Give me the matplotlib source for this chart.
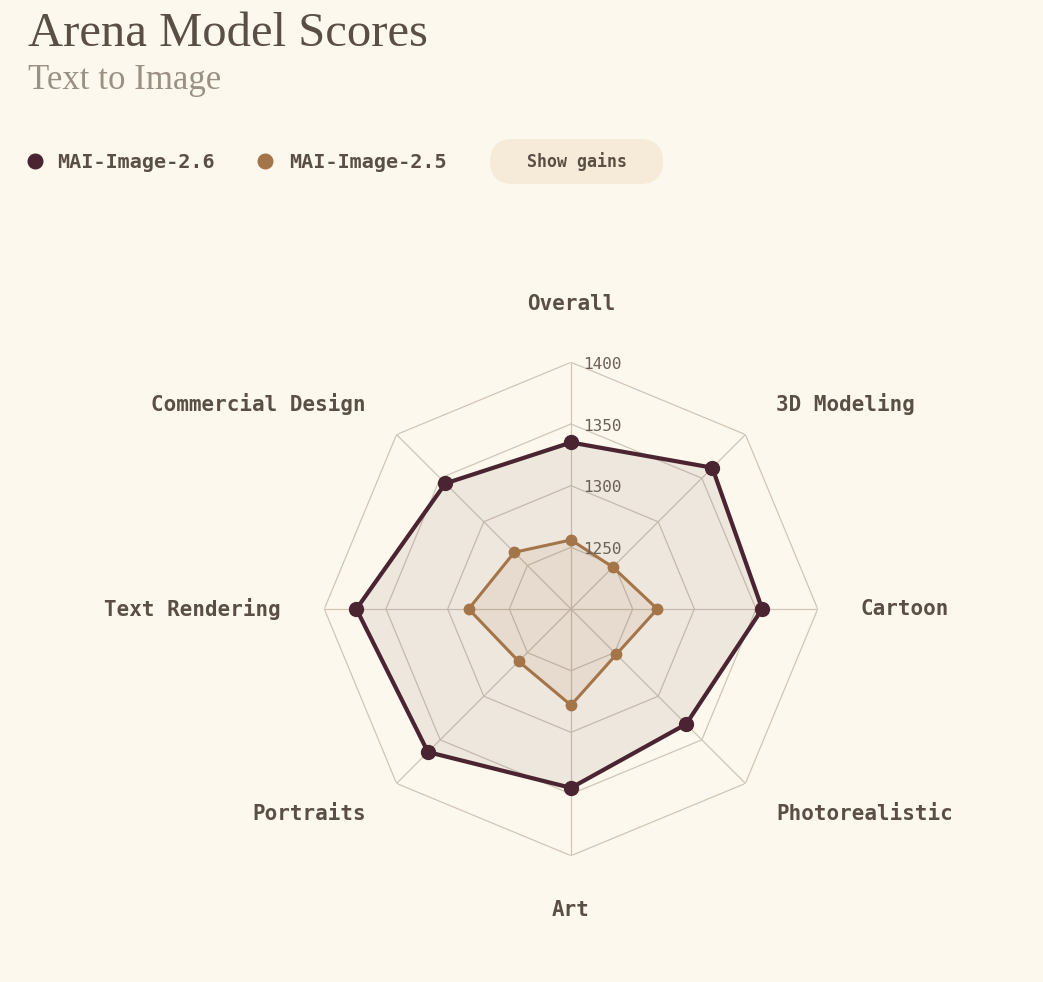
import numpy as np
import matplotlib.pyplot as plt
from matplotlib.patches import FancyBboxPatch

# Data
categories = ['Overall', '3D Modeling', 'Cartoon', 'Photorealistic', 'Art',
              'Portraits', 'Text Rendering', 'Commercial Design']
scores_26 = [1335, 1362, 1355, 1332, 1345, 1364, 1374, 1344]
scores_25 = [1256, 1248, 1270, 1252, 1278, 1260, 1283, 1265]
ring_values = [1250, 1300, 1350, 1400]
r_min, r_max = 1200, 1400

# Colors
bg = '#fdf8ed'
c26 = '#4a2430'
c25 = '#a5754a'
grid_c = '#cfc6b8'
text_c = '#5a4f45'
sub_c = '#9a9184'

fig = plt.figure(figsize=(10.43, 9.82), dpi=100)
fig.patch.set_facecolor(bg)

W, H = 1043, 982
cx, cy, rad = 571, 609, 246.7
ax = fig.add_axes([(cx - rad) / W, (H - cy - rad) / H, 2 * rad / W, 2 * rad / H],
                  projection='polar')
ax.set_facecolor('none')
ax.set_theta_zero_location('N')
ax.set_theta_direction(-1)
ax.set_ylim(r_min, r_max)
ax.grid(False)
ax.set_xticks([])
ax.set_yticks([])
ax.spines['polar'].set_visible(False)

n = len(categories)
angles = np.linspace(0, 2 * np.pi, n, endpoint=False)
closed = np.concatenate([angles, angles[:1]])

# octagon rings and spokes
for rv in ring_values:
    ax.plot(closed, [rv] * (n + 1), color=grid_c, lw=0.9, zorder=1)
for a in angles:
    ax.plot([a, a], [r_min, r_max], color=grid_c, lw=0.9, zorder=1)

# tick labels
for rv in ring_values:
    ax.annotate(str(rv), xy=(0, rv), xytext=(8.6, -1.5), textcoords='offset points',
                ha='left', va='center', fontsize=11.5, color='#6b6157',
                family='DejaVu Sans Mono', zorder=5)

# series
v26 = scores_26 + scores_26[:1]
v25 = scores_25 + scores_25[:1]
ax.fill(closed, v26, color=c26, alpha=0.08, lw=0, zorder=2)
ax.fill(closed, v25, color=c25, alpha=0.10, lw=0, zorder=2)
ax.plot(closed, v26, color=c26, lw=3.0, zorder=4)
ax.plot(angles, scores_26, 'o', color=c26, ms=10, zorder=4)
ax.plot(closed, v25, color=c25, lw=2.2, zorder=3)
ax.plot(angles, scores_25, 'o', color=c25, ms=7.5, zorder=3)

# category labels
for a, cat in zip(angles, categories):
    s, c = np.sin(a), np.cos(a)
    if abs(s) < 0.01:
        ha, lr = 'center', (1447 if c > 0 else 1444)
    elif s > 0:
        ha, lr = 'left', 1435
    else:
        ha, lr = 'right', 1435
    ax.text(a, lr, cat, ha=ha, va='center', fontsize=15, fontweight='bold',
            color=text_c, family='DejaVu Sans Mono', clip_on=False)

# title and subtitle
fig.text(28 / W, 1 - 46 / H, 'Arena Model Scores', fontsize=35, color=text_c,
         family='Liberation Serif', va='baseline', ha='left')
fig.text(28 / W, 1 - 89 / H, 'Text to Image', fontsize=25, color=sub_c,
         family='Liberation Serif', va='baseline', ha='left')

# legend
ly = 1 - 161 / H
for x_dot, x_txt, col, name in [(35, 57, c26, 'MAI-Image-2.6'),
                                (265, 289, c25, 'MAI-Image-2.5')]:
    fig.lines.append(plt.Line2D([x_dot / W], [ly], marker='o', ms=10.5, color=col,
                                transform=fig.transFigure))
    fig.text(x_txt / W, ly - 1 / H, name, fontsize=14.5, fontweight='bold',
             color=text_c, family='DejaVu Sans Mono', va='center', ha='left')

# "Show gains" pill
pill = FancyBboxPatch((490 / W, 1 - 184 / H), 173 / W, 45 / H,
                      boxstyle='round,pad=0,rounding_size=0.022',
                      transform=fig.transFigure, facecolor='#f6ead9',
                      edgecolor='none', mutation_aspect=W / H)
fig.patches.append(pill)
fig.text(577 / W, 1 - 162 / H, 'Show gains', fontsize=12, fontweight='bold',
         color=text_c, family='DejaVu Sans Mono', va='center', ha='center')

fig.savefig('out.png', dpi=100, facecolor=bg)
